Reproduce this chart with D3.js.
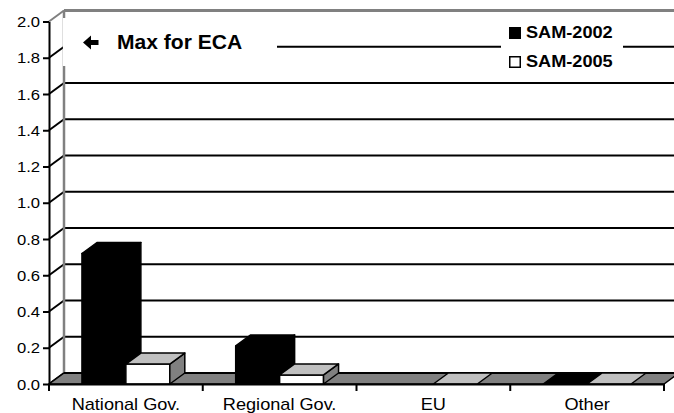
<!DOCTYPE html>
<html>
<head>
<meta charset="utf-8">
<script src="https://cdn.jsdelivr.net/npm/d3@7"></script>
<style>
  body { margin: 0; background: #fff; }
  svg text { font-family: "Liberation Sans", Arial, sans-serif; fill: #000; }
</style>
</head>
<body>
<script>
// chart data
var categories = ["National Gov.", "Regional Gov.", "EU", "Other"];
var seriesNames = ["SAM-2002", "SAM-2005"];
var sam2002 = [0.72, 0.21, null, 0];
var sam2005 = [0.11, 0.05, 0, 0];
var yTicks = [0, 0.2, 0.4, 0.6, 0.8, 1.0, 1.2, 1.4, 1.6, 1.8, 2.0];
var maxLabel = "Max for ECA";

(function(){
    var width = 674, height = 413;
    var dx = 15, dy = 11;      // 3d depth offset
    var stretch = 1.08;        // text in the picture is a bit wide

    var svg = d3.select("body").append("svg")
        .attr("width", width)
        .attr("height", height);

    var x = d3.scaleBand()
        .domain(categories)
        .range([49, 664])
        .paddingInner(0)
        .paddingOuter(0);

    var xs = d3.scaleBand()
        .domain(seriesNames)
        .range([0, x.bandwidth()])
        .paddingInner(0)
        .paddingOuter(0.75);

    var y = d3.scaleLinear()
        .domain([0, 2])
        .range([384, 21.5]);

    var x0 = x.range()[0], x1 = x.range()[1];

    //helper for slightly wide text
    function label(g, tx, ty, str, size, weight, anchor){
        return g.append("text")
            .attr("transform", "translate(" + tx + "," + ty + ") scale(" + stretch + ",1)")
            .attr("text-anchor", anchor || "start")
            .style("font-size", size + "px")
            .style("font-weight", weight || "normal")
            .text(str);
    }

    //back wall gridlines
    svg.selectAll(".grid")
        .data(yTicks.filter(function(d){ return d > 0 && d < 2; }))
        .enter().append("line")
        .attr("class", "grid")
        .attr("x1", x0 + dx).attr("x2", x1 + dx)
        .attr("y1", function(d){ return y(d) - dy; })
        .attr("y2", function(d){ return y(d) - dy; })
        .attr("stroke", "#000").attr("stroke-width", 2);

    //side wall connectors
    svg.selectAll(".conn")
        .data(yTicks)
        .enter().append("line")
        .attr("class", "conn")
        .attr("x1", x0).attr("x2", x0 + dx)
        .attr("y1", function(d){ return y(d); })
        .attr("y2", function(d){ return y(d) - dy; })
        .attr("stroke", function(d){ return d === 2 ? "#808080" : "#000"; })
        .attr("stroke-width", 2);

    //wall outline (top and left edge of back wall)
    svg.append("line")
        .attr("x1", x0 + dx).attr("x2", x1 + dx)
        .attr("y1", y(2) - dy).attr("y2", y(2) - dy)
        .attr("stroke", "#808080").attr("stroke-width", 3);
    svg.append("line")
        .attr("x1", x0 + dx).attr("x2", x0 + dx)
        .attr("y1", y(2) - dy).attr("y2", y(0) - dy)
        .attr("stroke", "#808080").attr("stroke-width", 2.5);

    //floor
    svg.append("path")
        .attr("d", "M" + x0 + "," + y(0) + "L" + (x0 + dx) + "," + (y(0) - dy) +
                   "L" + (x1 + dx) + "," + (y(0) - dy) + "L" + x1 + "," + y(0) + "Z")
        .attr("fill", "#808080")
        .attr("stroke", "#000").attr("stroke-width", 1.5);
    svg.append("line")
        .attr("x1", x0 + dx).attr("x2", x1 + dx)
        .attr("y1", y(0) - dy).attr("y2", y(0) - dy)
        .attr("stroke", "#000").attr("stroke-width", 2);

    //white boxes behind the annotation and the legend
    svg.append("rect")
        .attr("x", 63).attr("y", 18)
        .attr("width", 214).attr("height", 48)
        .attr("fill", "#fff");
    svg.append("rect")
        .attr("x", 501).attr("y", 19)
        .attr("width", 122).attr("height", 57)
        .attr("fill", "#fff");

    //bars
    var barData = [];
    categories.forEach(function(c, i){
        [sam2002[i], sam2005[i]].forEach(function(v, s){
            if (v === null) return;
            barData.push({cat: c, series: seriesNames[s], s: s, value: v});
        });
    });

    var w = xs.bandwidth(), base = y(0);
    var bars = svg.selectAll(".bar")
        .data(barData)
        .enter().append("g")
        .attr("class", "bar")
        .attr("stroke", "#000")
        .attr("stroke-width", 1.5)
        .attr("stroke-linejoin", "round");

    bars.each(function(d){
        var g = d3.select(this);
        var bx = x(d.cat) + xs(d.series);
        var top = y(d.value);
        var dark = d.s === 0;
        if (d.value > 0){
            g.append("rect")
                .attr("x", bx).attr("y", top)
                .attr("width", w).attr("height", base - top)
                .attr("fill", dark ? "#000" : "#fff");
            g.append("path")
                .attr("d", "M" + (bx + w) + "," + top + "L" + (bx + w + dx) + "," + (top - dy) +
                           "L" + (bx + w + dx) + "," + (base - dy) + "L" + (bx + w) + "," + base + "Z")
                .attr("fill", dark ? "#000" : "#808080");
        }
        g.append("path")
            .attr("d", "M" + bx + "," + top + "L" + (bx + dx) + "," + (top - dy) +
                       "L" + (bx + w + dx) + "," + (top - dy) + "L" + (bx + w) + "," + top + "Z")
            .attr("fill", dark ? "#000" : "#c0c0c0");
    });

    //y axis
    var yAxis = d3.axisLeft(y)
        .tickValues(yTicks)
        .tickSize(6)
        .tickSizeOuter(0)
        .tickFormat(function(){ return ""; });
    var yg = svg.append("g")
        .attr("transform", "translate(" + x0 + ",0)")
        .call(yAxis);
    yg.select(".domain").attr("stroke", "#000").attr("stroke-width", 2);
    yg.selectAll(".tick line").attr("stroke", "#000").attr("stroke-width", 2);
    yTicks.forEach(function(t){
        label(svg, 40, y(t) + 5.5, d3.format(".1f")(t), 15.4, "normal", "end");
    });

    //x axis
    var xAxis = d3.axisBottom(x)
        .tickSize(0)
        .tickSizeOuter(0)
        .tickFormat(function(){ return ""; });
    var xg = svg.append("g")
        .attr("transform", "translate(0," + base + ")")
        .call(xAxis);
    xg.select(".domain").attr("stroke", "#000").attr("stroke-width", 2);

    var bounds = categories.map(function(c){ return x(c); }).concat([x1]);
    svg.selectAll(".xtick")
        .data(bounds)
        .enter().append("line")
        .attr("class", "xtick")
        .attr("x1", function(d){ return d; }).attr("x2", function(d){ return d; })
        .attr("y1", base).attr("y2", base + 7)
        .attr("stroke", "#000").attr("stroke-width", 2);

    categories.forEach(function(c){
        label(svg, x(c) + x.bandwidth() / 2, 410, c, 16.8, "normal", "middle");
    });

    //annotation with arrow
    svg.append("path")
        .attr("d", "M83,42.5 L91,35.5 L91,40 L98.5,40 L98.5,45 L91,45 L91,49.5 Z")
        .attr("fill", "#000");
    label(svg, 117, 49, maxLabel, 19.5, "bold");

    //legend
    var legend = svg.selectAll(".legend")
        .data(seriesNames)
        .enter().append("g")
        .attr("class", "legend")
        .attr("transform", function(d, i){ return "translate(509," + (27 + i * 29) + ")"; });
    legend.append("rect")
        .attr("x", 0.75).attr("y", 0.75)
        .attr("width", 10.5).attr("height", 10.5)
        .attr("fill", function(d, i){ return i === 0 ? "#000" : "#fff"; })
        .attr("stroke", "#000").attr("stroke-width", 1.5);
    legend.each(function(d){
        label(d3.select(this), 17, 11, d, 16.8, "bold");
    });
})();
</script>
</body>
</html>
